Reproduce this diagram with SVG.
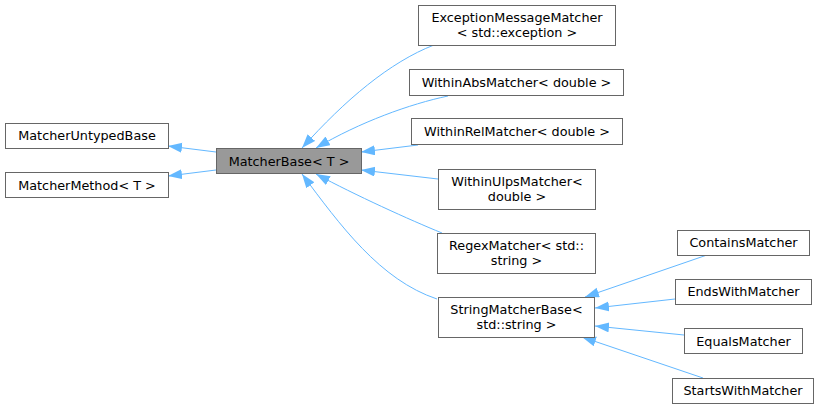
<svg xmlns="http://www.w3.org/2000/svg" width="820" height="409" viewBox="0 0 820 409">
<defs>
<style>
.n rect{fill:#ffffff;stroke:#666666;stroke-width:1}
.n.cur rect{fill:#999999;stroke:#666666}
.n text{font-family:"DejaVu Sans","Noto Sans",sans-serif;font-size:12.8px;fill:#000000;text-anchor:middle}
.e path{fill:none;stroke:#63b8ff;stroke-width:1;marker-end:url(#ah)}
</style>
<marker id="ah" markerUnits="userSpaceOnUse" markerWidth="16" markerHeight="12" refX="14" refY="5" orient="auto">
<path d="M0,0 L14,5 L0,10 z" fill="#63b8ff"/>
</marker>
</defs>
<rect width="820" height="409" fill="#ffffff"/>
<g id="connectors" class="e">
<path d="M216,152 L168,146"/>
<path d="M216,170 L168,176"/>
<path d="M434,45 C390,62 345,100 302,148"/>
<path d="M448,96 C410,104 360,122 316,148"/>
<path d="M418,145 L361,152"/>
<path d="M438,179 L361,170"/>
<path d="M442,233 C410,220 355,195 316,174"/>
<path d="M437,299 C380,280 340,225 302,174"/>
<path d="M707,255 L585,297"/>
<path d="M675,299 L595,308"/>
<path d="M684,335 L595,326"/>
<path d="M703,378 L582,337"/>
</g>
<g id="MatcherUntypedBase" class="n"><rect x="5.5" y="123.5" width="163" height="25"/><text x="87" y="140">MatcherUntypedBase</text></g>
<g id="MatcherMethod" class="n"><rect x="5.5" y="172.5" width="163" height="25"/><text x="87" y="189.5">MatcherMethod&lt; T &gt;</text></g>
<g id="MatcherBase" class="n cur"><rect x="216.5" y="148.5" width="145" height="25"/><text x="289" y="165.5">MatcherBase&lt; T &gt;</text></g>
<g id="ExceptionMessageMatcher" class="n"><rect x="418.5" y="5.5" width="197" height="40"/><text x="517" y="21.5">ExceptionMessageMatcher</text><text x="517" y="36.5">&lt; std::exception &gt;</text></g>
<g id="WithinAbsMatcher" class="n"><rect x="409.5" y="69.5" width="214" height="26"/><text x="516.5" y="87">WithinAbsMatcher&lt; double &gt;</text></g>
<g id="WithinRelMatcher" class="n"><rect x="411.5" y="118.5" width="211" height="26"/><text x="517" y="136">WithinRelMatcher&lt; double &gt;</text></g>
<g id="WithinUlpsMatcher" class="n"><rect x="438.5" y="169.5" width="157" height="40"/><text x="517" y="185.5">WithinUlpsMatcher&lt;</text><text x="517" y="200.5">double &gt;</text></g>
<g id="RegexMatcher" class="n"><rect x="437.5" y="233.5" width="158" height="40"/><text x="516.5" y="249.5">RegexMatcher&lt; std::</text><text x="516.5" y="264.5">string &gt;</text></g>
<g id="StringMatcherBase" class="n"><rect x="438.5" y="297.5" width="156" height="40"/><text x="516.5" y="313.5">StringMatcherBase&lt;</text><text x="516.5" y="328.5">std::string &gt;</text></g>
<g id="ContainsMatcher" class="n"><rect x="677.5" y="230.5" width="132" height="25"/><text x="743.5" y="247">ContainsMatcher</text></g>
<g id="EndsWithMatcher" class="n"><rect x="675.5" y="279.5" width="136" height="25"/><text x="743.5" y="296">EndsWithMatcher</text></g>
<g id="EqualsMatcher" class="n"><rect x="684.5" y="328.5" width="118" height="25"/><text x="743.5" y="345.5">EqualsMatcher</text></g>
<g id="StartsWithMatcher" class="n"><rect x="672.5" y="378.5" width="141" height="25"/><text x="743" y="395">StartsWithMatcher</text></g>
</svg>
